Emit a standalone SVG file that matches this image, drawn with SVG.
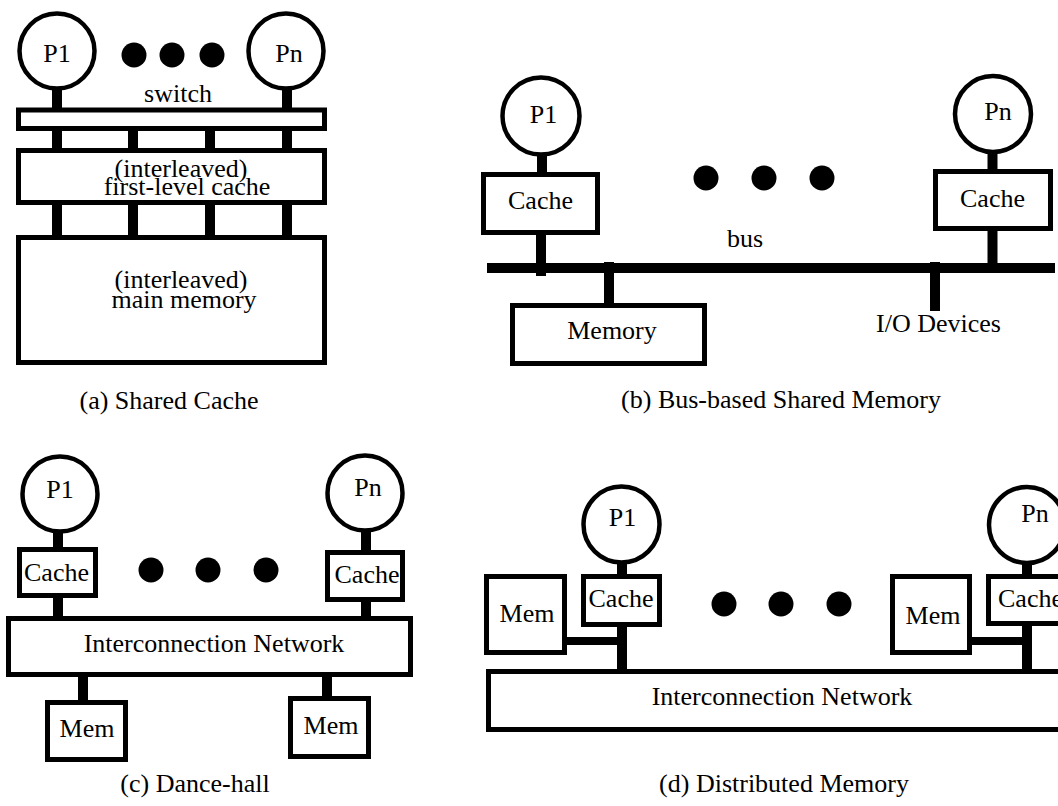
<svg xmlns="http://www.w3.org/2000/svg" width="1058" height="806" viewBox="0 0 1058 806">
<style>
.box{fill:#fff;stroke:#000;stroke-width:5}
.circ{fill:#fff;stroke:#000;stroke-width:4.5}
.stem{stroke:#000;stroke-width:10;fill:none}
.bar{stroke:#000;stroke-width:8;fill:none}
.dot{fill:#000}
text{font-family:"Liberation Serif","Times New Roman",serif;font-size:26px;text-anchor:middle;fill:#000}
</style>
<rect width="1058" height="806" fill="#fff"/>
<g id="connectors">
  <!-- (a) -->
  <line class="stem" x1="57" y1="90" x2="57" y2="111"/>
  <line class="stem" x1="287" y1="90" x2="287" y2="111"/>
  <line class="stem" x1="57" y1="128" x2="57" y2="152"/>
  <line class="stem" x1="133" y1="128" x2="133" y2="152"/>
  <line class="stem" x1="210" y1="128" x2="210" y2="152"/>
  <line class="stem" x1="287" y1="128" x2="287" y2="152"/>
  <line class="stem" x1="57" y1="202" x2="57" y2="239"/>
  <line class="stem" x1="133" y1="202" x2="133" y2="239"/>
  <line class="stem" x1="210" y1="202" x2="210" y2="239"/>
  <line class="stem" x1="287" y1="202" x2="287" y2="239"/>
  <!-- (b) -->
  <line class="stem" x1="487" y1="268" x2="1055" y2="268"/>
  <line class="stem" x1="542" y1="154" x2="542" y2="177"/>
  <line class="stem" x1="541" y1="232" x2="541" y2="276"/>
  <line class="stem" x1="609" y1="262" x2="609" y2="306"/>
  <line class="stem" x1="935" y1="262" x2="935" y2="311"/>
  <line class="stem" x1="992.5" y1="152" x2="992.5" y2="173"/>
  <line class="stem" x1="992.5" y1="228" x2="992.5" y2="268"/>
  <!-- (c) -->
  <line class="stem" x1="58" y1="530" x2="58" y2="551"/>
  <line class="stem" x1="58" y1="596" x2="58" y2="620"/>
  <line class="stem" x1="366" y1="530" x2="366" y2="554"/>
  <line class="stem" x1="366" y1="599" x2="366" y2="620"/>
  <line class="stem" x1="83" y1="673" x2="83" y2="704"/>
  <line class="stem" x1="327" y1="673" x2="327" y2="700"/>
  <!-- (d) -->
  <line class="stem" x1="622" y1="560" x2="622" y2="578"/>
  <line class="stem" x1="622" y1="624" x2="622" y2="673"/>
  <line class="bar" x1="565" y1="641" x2="622" y2="641"/>
  <line class="stem" x1="1027" y1="562" x2="1027" y2="578"/>
  <line class="stem" x1="1027" y1="624" x2="1027" y2="673"/>
  <line class="bar" x1="970" y1="641" x2="1027" y2="641"/>
</g>
<g id="panel-a">
  <g id="a-p1"><circle class="circ" cx="57" cy="51" r="37.5"/><text x="57" y="62">P1</text></g>
  <g id="a-pn"><circle class="circ" cx="286" cy="51" r="37.5"/><text x="289" y="62">Pn</text></g>
  <g id="a-dots"><circle class="dot" cx="134" cy="55" r="12.5"/><circle class="dot" cx="172" cy="55" r="12.5"/><circle class="dot" cx="212" cy="55" r="12.5"/></g>
  <g id="a-switch"><rect class="box" x="18.5" y="110" width="306" height="18.5"/><text x="178" y="102">switch</text></g>
  <g id="a-cache"><rect class="box" x="18.5" y="150.5" width="306" height="52"/><text x="181" y="177">(interleaved)</text><text x="187" y="195">first-level cache</text></g>
  <g id="a-memory"><rect class="box" x="18.5" y="237.5" width="306" height="125"/><text x="181" y="288">(interleaved)</text><text x="184" y="308">main memory</text></g>
  <text id="a-caption" x="169" y="409">(a) Shared Cache</text>
</g>
<g id="panel-b">
  <g id="b-p1"><circle class="circ" cx="541" cy="116" r="38.5"/><text x="543.5" y="123">P1</text></g>
  <g id="b-cache1"><rect class="box" x="483.5" y="174.5" width="114" height="58"/><text x="540.5" y="209">Cache</text></g>
  <g id="b-pn"><circle class="circ" cx="993" cy="114" r="38"/><text x="998" y="120">Pn</text></g>
  <g id="b-cachen"><rect class="box" x="935.5" y="171.5" width="115" height="57"/><text x="992.5" y="207">Cache</text></g>
  <g id="b-dots"><circle class="dot" cx="706" cy="178" r="12.5"/><circle class="dot" cx="764" cy="178" r="12.5"/><circle class="dot" cx="822" cy="178" r="12.5"/></g>
  <text id="b-bus" x="745" y="247">bus</text>
  <g id="b-memory"><rect class="box" x="512.5" y="305.5" width="192" height="58"/><text x="612" y="339">Memory</text></g>
  <text id="b-io" x="938.5" y="332">I/O Devices</text>
  <text id="b-caption" x="781" y="408">(b) Bus-based Shared Memory</text>
</g>
<g id="panel-c">
  <g id="c-p1"><circle class="circ" cx="60" cy="494" r="37.5"/><text x="60" y="498">P1</text></g>
  <g id="c-cache1"><rect class="box" x="19.5" y="549.5" width="76" height="46"/><text x="56.5" y="581">Cache</text></g>
  <g id="c-pn"><circle class="circ" cx="365" cy="493" r="37.5"/><text x="368" y="496">Pn</text></g>
  <g id="c-cachen"><rect class="box" x="327.5" y="552.5" width="75" height="47"/><text x="367" y="583">Cache</text></g>
  <g id="c-dots"><circle class="dot" cx="151" cy="570" r="12.5"/><circle class="dot" cx="208" cy="570" r="12.5"/><circle class="dot" cx="266" cy="570" r="12.5"/></g>
  <g id="c-network"><rect class="box" x="8.5" y="618.5" width="402" height="56"/><text x="214" y="652">Interconnection Network</text></g>
  <g id="c-mem1"><rect class="box" x="47.5" y="702.5" width="78" height="57"/><text x="87" y="737">Mem</text></g>
  <g id="c-mem2"><rect class="box" x="290.5" y="698.5" width="78" height="58"/><text x="331" y="734">Mem</text></g>
  <text id="c-caption" x="195" y="792">(c) Dance-hall</text>
</g>
<g id="panel-d">
  <g id="d-p1"><circle class="circ" cx="621.5" cy="524.5" r="38"/><text x="622.5" y="526">P1</text></g>
  <g id="d-cache1"><rect class="box" x="583.5" y="576.5" width="76" height="48"/><text x="621" y="607">Cache</text></g>
  <g id="d-mem1"><rect class="box" x="486.5" y="576.5" width="78" height="76"/><text x="527" y="622">Mem</text></g>
  <g id="d-pn"><circle class="circ" cx="1027" cy="525" r="38"/><text x="1035" y="522">Pn</text></g>
  <g id="d-cachen"><rect class="box" x="988.5" y="576.5" width="76" height="47"/><text x="1030.5" y="607">Cache</text></g>
  <g id="d-memn"><rect class="box" x="892.5" y="576.5" width="77" height="76"/><text x="933" y="624">Mem</text></g>
  <g id="d-dots"><circle class="dot" cx="724" cy="604" r="12.5"/><circle class="dot" cx="781" cy="604" r="12.5"/><circle class="dot" cx="839" cy="604" r="12.5"/></g>
  <g id="d-network"><rect class="box" x="488.5" y="671.5" width="600" height="58"/><text x="782" y="705">Interconnection Network</text></g>
  <text id="d-caption" x="784" y="792">(d) Distributed Memory</text>
</g>
</svg>
